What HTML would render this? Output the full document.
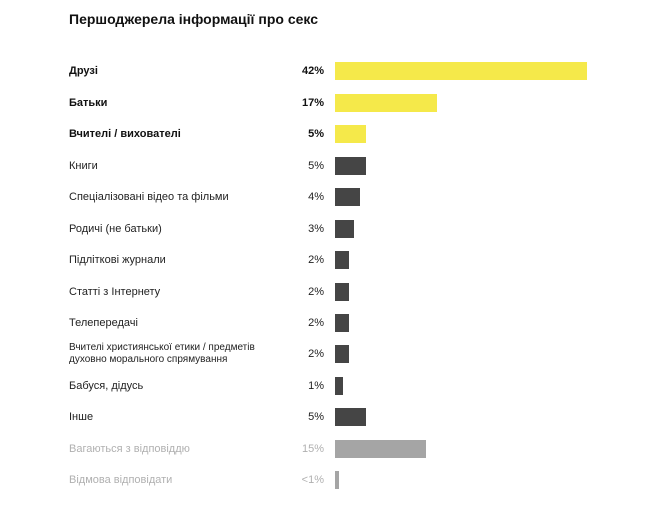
<!DOCTYPE html>
<html><head><meta charset="utf-8"><style>
body{margin:0;width:672px;height:517px;background:#fff;font-family:"Liberation Sans","DejaVu Sans",sans-serif;position:relative;overflow:hidden}
.t{position:absolute;left:69px;top:11px;font-size:14px;font-weight:bold;color:#111}
.l{position:absolute;left:69px;font-size:11px;color:#222;line-height:12px;transform:translateY(-50%)}
.p{position:absolute;right:348px;font-size:11px;color:#222;transform:translateY(-50%)}
.b{position:absolute;left:335px;height:18px;transform:translateY(-50%)}
.y{background:#f5e94a}.d{background:#454545}.g{background:#a5a5a5}
.bo{font-weight:bold;color:#111}.gr{color:#b0b0b0}
</style></head><body>
<div class="t">Першоджерела інформації про секс</div>
<div class="l bo" style="top:71px">Друзі</div><div class="p bo" style="top:71px">42%</div><div class="b y" style="top:71px;width:252px"></div>
<div class="l bo" style="top:103px">Батьки</div><div class="p bo" style="top:103px">17%</div><div class="b y" style="top:103px;width:102px"></div>
<div class="l bo" style="top:134px">Вчителі / вихователі</div><div class="p bo" style="top:134px">5%</div><div class="b y" style="top:134px;width:31px"></div>
<div class="l" style="top:166px">Книги</div><div class="p" style="top:166px">5%</div><div class="b d" style="top:166px;width:31px"></div>
<div class="l" style="top:197px">Спеціалізовані відео та фільми</div><div class="p" style="top:197px">4%</div><div class="b d" style="top:197px;width:25px"></div>
<div class="l" style="top:229px">Родичі (не батьки)</div><div class="p" style="top:229px">3%</div><div class="b d" style="top:229px;width:19px"></div>
<div class="l" style="top:260px">Підліткові журнали</div><div class="p" style="top:260px">2%</div><div class="b d" style="top:260px;width:14px"></div>
<div class="l" style="top:292px">Статті з Інтернету</div><div class="p" style="top:292px">2%</div><div class="b d" style="top:292px;width:14px"></div>
<div class="l" style="top:323px">Телепередачі</div><div class="p" style="top:323px">2%</div><div class="b d" style="top:323px;width:14px"></div>
<div class="l" style="top:354px;font-size:10px">Вчителі християнської етики / предметів<br>духовно морального спрямування</div><div class="p" style="top:354px">2%</div><div class="b d" style="top:354px;width:14px"></div>
<div class="l" style="top:386px">Бабуся, дідусь</div><div class="p" style="top:386px">1%</div><div class="b d" style="top:386px;width:8px"></div>
<div class="l" style="top:417px">Інше</div><div class="p" style="top:417px">5%</div><div class="b d" style="top:417px;width:31px"></div>
<div class="l gr" style="top:449px">Вагаються з відповіддю</div><div class="p gr" style="top:449px">15%</div><div class="b g" style="top:449px;width:91px"></div>
<div class="l gr" style="top:480px">Відмова відповідати</div><div class="p gr" style="top:480px">&lt;1%</div><div class="b g" style="top:480px;width:4px"></div>
</body></html>
